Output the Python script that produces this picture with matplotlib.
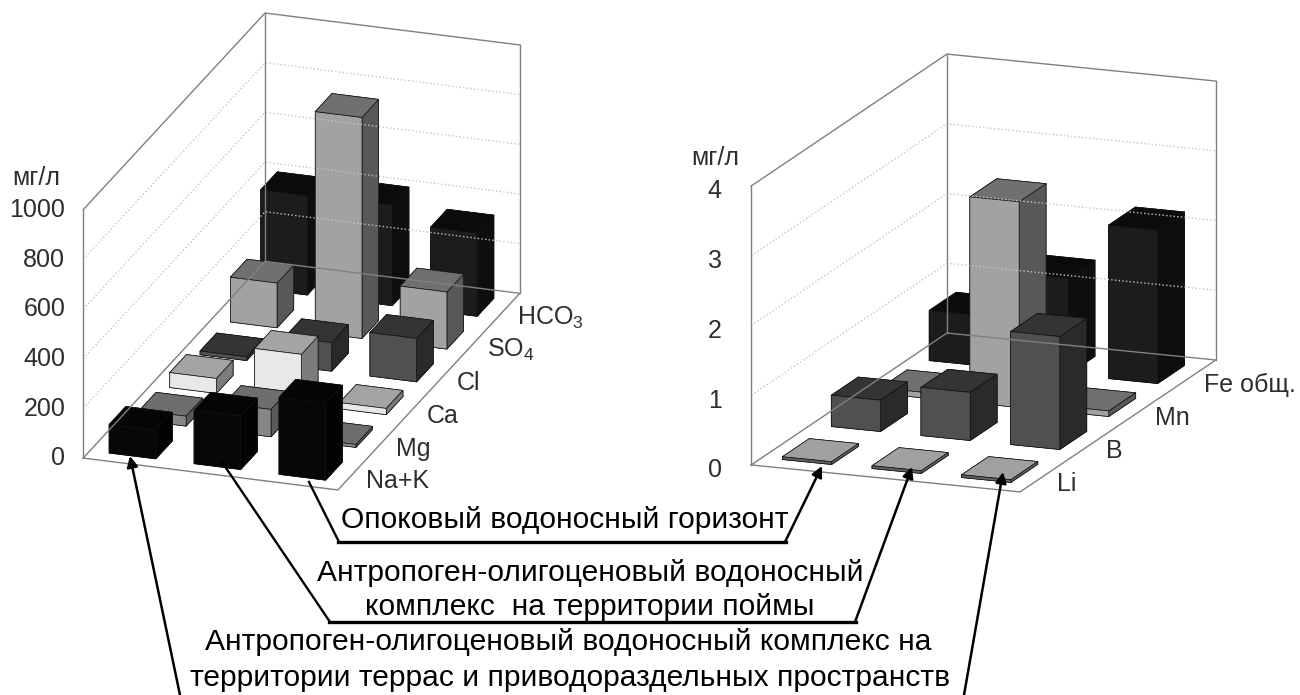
import matplotlib
matplotlib.use('Agg')
import matplotlib.pyplot as plt
from mpl_toolkits.mplot3d import proj3d

plt.rcParams['font.family'] = ['Liberation Sans', 'DejaVu Sans']
plt.rcParams['mathtext.default'] = 'regular'

# Data
x_groups = 3

major_series = ['Na+K', 'Mg', 'Ca', 'Cl', 'SO$_4$', 'HCO$_3$']
major_na_k = [115, 215, 310]
major_mg = [40, 110, 12]
major_ca = [60, 200, 25]
major_cl = [15, 115, 175]
major_so4 = [180, 890, 230]
major_hco3 = [400, 405, 335]
major_ticks = [0, 200, 400, 600, 800, 1000]

minor_series = ['Li', 'B', 'Mn', 'Fe общ.']
minor_li = [0.04, 0.04, 0.04]
minor_b = [0.45, 0.69, 1.62]
minor_mn = [0.08, 2.95, 0.08]
minor_fe = [0.72, 1.38, 2.2]
minor_ticks = [0, 1, 2, 3, 4]

# Global parameters
FIG_W = 1300
FIG_H = 695
AXES_PX = 660  # mplot3d keeps its axes square, this gives the wanted scale
bar_width = 0.55
frame_color = '#808080'
grid_color = '#c4c4c4'
text_color = '#2e2e2e'
tick_size = 18
series_size = 18
unit_size = 18
note_size = 21.6

# bottom, top, front, back, left, right
face_black = ['#050505', '#050505', '#070707', '#070707', '#030303', '#030303']
face_mid = ['#707070', '#6e6e6e', '#868686', '#868686', '#5a5a5a', '#5a5a5a']
face_pale = ['#a0a0a0', '#a4a4a4', '#e8e8e8', '#e8e8e8', '#7c7c7c', '#7c7c7c']
face_dark = ['#333333', '#343434', '#505050', '#505050', '#2a2a2a', '#2a2a2a']
face_light = ['#707070', '#707070', '#a2a2a2', '#a2a2a2', '#585858', '#585858']
face_night = ['#0a0a0a', '#0b0b0b', '#1c1c1c', '#1c1c1c', '#0e0e0e', '#0e0e0e']
face_flat = ['#a0a0a0', '#a0a0a0', '#606060', '#606060', '#606060', '#606060']


def make_axes(center_x, center_y, elev, azim, box):
    # center_* is the pixel where the middle of the 3D box should land
    left = (center_x - AXES_PX * 0.095 / 0.185) / FIG_W
    bottom = (FIG_H - center_y - AXES_PX * 0.095 / 0.185) / FIG_H
    ax = fig.add_axes([left, bottom, AXES_PX / FIG_W, AXES_PX / FIG_H],
                      projection='3d',
                      computed_zorder=False)
    ax.set_proj_type('ortho')
    ax.view_init(elev=elev, azim=azim)
    ax.set_box_aspect(box)
    ax.set_xticks([])
    ax.set_yticks([])
    ax.set_zticks([])
    ax.set_axis_off()
    ax.patch.set_visible(False)
    return ax


def put_text(ax, x, y, z, label, **kwargs):
    # plain 2D text at the projected position of a 3D point
    px, py, _ = proj3d.proj_transform(x, y, z, ax.get_proj())
    ax.text2D(px, py, label, transform=ax.transData, va='center', **kwargs)


def draw_chart(ax, rows, faces, series, ticks, tick_dx, tick_dz, label_dx,
               label_dz):
    n_rows = len(rows)
    z_max = ticks[-1]
    ax.set_xlim(0, x_groups)
    ax.set_ylim(0, n_rows)
    ax.set_zlim(0, z_max)

    # dotted grid on both walls
    for z in ticks[1:-1]:
        ax.plot([0, 0, x_groups], [0, n_rows, n_rows], [z, z, z],
                color=grid_color,
                linestyle=':',
                linewidth=1)

    # frame
    frame = [
        ([0, x_groups, x_groups, 0, 0], [0, 0, n_rows, n_rows, 0], [0] * 5),
        ([0, 0, x_groups], [0, n_rows, n_rows], [z_max] * 3),
        ([0, 0], [0, 0], [0, z_max]),
        ([0, 0], [n_rows, n_rows], [0, z_max]),
        ([x_groups, x_groups], [n_rows, n_rows], [0, z_max]),
    ]
    for (fx, fy, fz) in frame:
        ax.plot(fx, fy, fz, color=frame_color, linewidth=1)

    # bars, from back to front
    for j in reversed(range(n_rows)):
        for i in range(x_groups):
            ax.bar3d(i + 0.5 - bar_width / 2,
                     j + 0.5 - bar_width / 2,
                     0,
                     bar_width,
                     bar_width,
                     rows[j][i],
                     color=faces[j],
                     shade=False,
                     edgecolor='#111111',
                     linewidth=0.5)

    for z in ticks:
        put_text(ax, tick_dx, 0, z + tick_dz, str(z), ha='right',
                 fontsize=tick_size, color=text_color)
    for j in range(n_rows):
        put_text(ax, x_groups + label_dx, j + 0.5, label_dz, series[j],
                 ha='left', fontsize=series_size, color=text_color)


fig = plt.figure(figsize=(FIG_W / 100, FIG_H / 100), dpi=100, facecolor='white')

####################################
# Major ions
####################################
ax_major = make_axes(301.5, 251.5, 21.6, -71.2, (269, 564, 267))
draw_chart(ax_major,
           [major_na_k, major_mg, major_ca, major_cl, major_so4, major_hco3],
           [face_black, face_mid, face_pale, face_dark, face_light, face_night],
           major_series, major_ticks, -0.21, -10, 0.15, -25)

####################################
# Trace elements
####################################
ax_minor = make_axes(983.5, 273, 15.07, -68.9, (288.3, 544, 289))
draw_chart(ax_minor,
           [minor_li, minor_b, minor_mn, minor_fe],
           [face_flat, face_dark, face_light, face_night],
           minor_series, minor_ticks, -0.33, -0.12, 0.14, -0.1)

####################################
# Notes and arrows, in pixels
####################################
ax_note = fig.add_axes([0, 0, 1, 1])
ax_note.set_xlim(0, FIG_W)
ax_note.set_ylim(FIG_H, 0)
ax_note.set_axis_off()
ax_note.patch.set_visible(False)

ax_note.text(36, 178, 'мг/л', ha='center', va='center', fontsize=unit_size,
             color=text_color)
ax_note.text(715, 158, 'мг/л', ha='center', va='center', fontsize=unit_size,
             color=text_color)

note_lines = [
    (565, 520, 'Опоковый водоносный горизонт'),
    (590, 573, 'Антропоген-олигоценовый водоносный'),
    (590, 607, 'комплекс  на территории поймы'),
    (568, 642, 'Антропоген-олигоценовый водоносный комплекс на'),
    (570, 678, 'территории террас и приводораздельных пространств'),
]
for (tx, ty, line) in note_lines:
    ax_note.text(tx, ty, line, ha='center', va='center', fontsize=note_size,
                 color='black')

# slanted starts of the joined lines, then their thicker horizontal parts
ax_note.plot([309, 339], [482, 542], color='black', linewidth=1.7)
ax_note.plot([222, 330], [462, 622], color='black', linewidth=1.7)
ax_note.plot([338, 786], [542, 542], color='black', linewidth=2.4)
ax_note.plot([329, 856], [622, 622], color='black', linewidth=2.4)

arrows = [
    ((785, 542), (822, 466)),
    ((855, 622), (912, 467)),
    ((180, 695), (130, 456)),
    ((964, 695), (1003, 472)),
]
for (start, end) in arrows:
    ax_note.annotate('',
                     xy=end,
                     xytext=start,
                     arrowprops=dict(arrowstyle='-|>',
                                     color='black',
                                     lw=1.8,
                                     mutation_scale=16,
                                     shrinkA=0,
                                     shrinkB=0))

fig.savefig('out.png', dpi=100)
